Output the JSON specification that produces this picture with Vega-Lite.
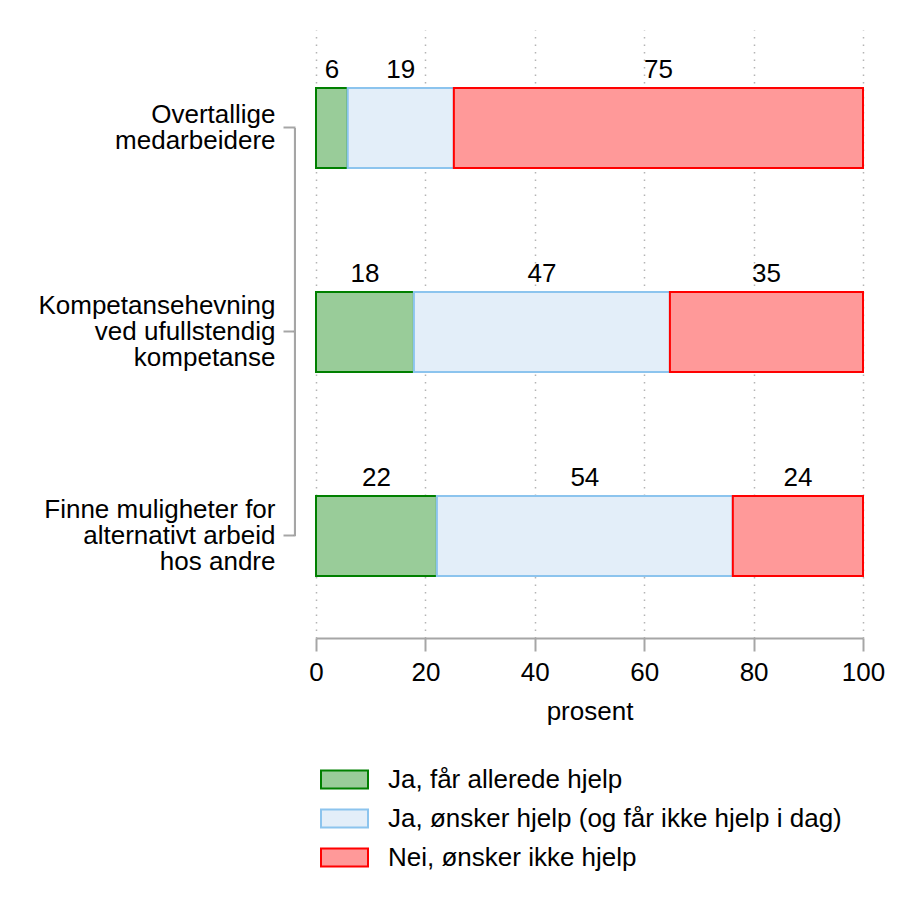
{
  "$schema": "https://vega.github.io/schema/vega-lite/v6.json",
  "autosize": {"type": "none"},
  "padding": {"left": 316, "top": 30, "right": 43, "bottom": 280},
  "width": 547,
  "height": 608,
  "config": {
    "font": "Liberation Sans",
    "view": {"stroke": null},
    "text": {"font": "Liberation Sans"}
  },
  "data": {
    "values": [
      {"cat": "Overtallige medarbeidere", "resp": "Ja, får allerede hjelp", "ord": 1, "value": 5.8},
      {"cat": "Overtallige medarbeidere", "resp": "Ja, ønsker hjelp (og får ikke hjelp i dag)", "ord": 2, "value": 19.4},
      {"cat": "Overtallige medarbeidere", "resp": "Nei, ønsker ikke hjelp", "ord": 3, "value": 74.8},
      {"cat": "Kompetansehevning ved ufullstendig kompetanse", "resp": "Ja, får allerede hjelp", "ord": 1, "value": 17.9},
      {"cat": "Kompetansehevning ved ufullstendig kompetanse", "resp": "Ja, ønsker hjelp (og får ikke hjelp i dag)", "ord": 2, "value": 46.8},
      {"cat": "Kompetansehevning ved ufullstendig kompetanse", "resp": "Nei, ønsker ikke hjelp", "ord": 3, "value": 35.3},
      {"cat": "Finne muligheter for alternativt arbeid hos andre", "resp": "Ja, får allerede hjelp", "ord": 1, "value": 22.1},
      {"cat": "Finne muligheter for alternativt arbeid hos andre", "resp": "Ja, ønsker hjelp (og får ikke hjelp i dag)", "ord": 2, "value": 54.1},
      {"cat": "Finne muligheter for alternativt arbeid hos andre", "resp": "Nei, ønsker ikke hjelp", "ord": 3, "value": 23.8}
    ]
  },
  "transform": [
    {"stack": "value", "groupby": ["cat"], "sort": [{"field": "ord", "order": "ascending"}], "as": ["x0", "x1"]},
    {"calculate": "(datum.x0 + datum.x1) / 2", "as": "mid"}
  ],
  "layer": [
    {
      "mark": {"type": "bar", "strokeWidth": 2},
      "encoding": {
        "y": {
          "field": "cat", "type": "nominal", "sort": null,
          "scale": {"paddingInner": 0.608, "paddingOuter": 0.294, "align": 0.483},
          "axis": {
            "title": null, "offset": 21, "domain": false, "grid": false,
            "tickSize": 12, "tickWidth": 2, "tickColor": "#a6a6a6",
            "labelPadding": 8, "labelFontSize": 26, "labelLineHeight": 26, "labelColor": "#000000", "labelLimit": 0,
            "labelOffset": {"condition": {"test": "datum.value == 'Overtallige medarbeidere'", "value": -13}, "value": -26},
            "labelExpr": "datum.value == 'Overtallige medarbeidere' ? ['Overtallige', 'medarbeidere'] : datum.value == 'Kompetansehevning ved ufullstendig kompetanse' ? ['Kompetansehevning', 'ved ufullstendig', 'kompetanse'] : ['Finne muligheter for', 'alternativt arbeid', 'hos andre']"
          }
        },
        "x": {
          "field": "x0", "type": "quantitative",
          "scale": {"domain": [0, 100], "nice": false},
          "axis": {
            "title": "prosent", "values": [0, 20, 40, 60, 80, 100], "labelFlush": false,
            "grid": true, "gridDash": [1.5, 6], "gridColor": "#b4b4b4", "gridWidth": 1.5,
            "domainColor": "#a6a6a6", "domainWidth": 2,
            "tickSize": 13, "tickWidth": 2, "tickColor": "#a6a6a6",
            "labelPadding": 8, "labelFontSize": 26, "labelColor": "#000000",
            "titleFontSize": 26, "titleFontWeight": "normal", "titleColor": "#000000", "titlePadding": 13
          }
        },
        "x2": {"field": "x1"},
        "color": {
          "field": "resp", "type": "nominal",
          "scale": {
            "domain": ["Ja, får allerede hjelp", "Ja, ønsker hjelp (og får ikke hjelp i dag)", "Nei, ønsker ikke hjelp"],
            "range": ["#99cc99", "#e3eef9", "#ff9999"]
          },
          "legend": {
            "title": null, "orient": "none", "legendX": 4, "legendY": 730,
            "symbolType": "M-1,-0.383H1V0.383H-1Z", "symbolSize": 2209, "symbolStrokeWidth": 2,
            "symbolOpacity": 1, "clipHeight": 39, "rowPadding": 0,
            "labelFontSize": 26, "labelColor": "#000000", "labelLimit": 0, "labelOffset": 19
          }
        },
        "stroke": {
          "field": "resp", "type": "nominal",
          "scale": {
            "domain": ["Ja, får allerede hjelp", "Ja, ønsker hjelp (og får ikke hjelp i dag)", "Nei, ønsker ikke hjelp"],
            "range": ["#008000", "#8cc4ee", "#ff0000"]
          },
          "legend": {
            "title": null, "orient": "none", "legendX": 4, "legendY": 730,
            "symbolType": "M-1,-0.383H1V0.383H-1Z", "symbolSize": 2209, "symbolStrokeWidth": 2,
            "symbolOpacity": 1, "clipHeight": 39, "rowPadding": 0,
            "labelFontSize": 26, "labelColor": "#000000", "labelLimit": 0, "labelOffset": 19
          }
        }
      }
    },
    {
      "mark": {"type": "text", "fontSize": 26, "color": "#000000", "baseline": "middle", "yOffset": -58},
      "encoding": {
        "y": {"field": "cat", "type": "nominal", "sort": null},
        "x": {"field": "mid", "type": "quantitative"},
        "text": {"field": "value", "type": "quantitative", "format": ".0f"}
      }
    },
    {
      "mark": {"type": "rule", "color": "#a6a6a6", "strokeWidth": 2},
      "encoding": {
        "y": {"datum": "Overtallige medarbeidere", "type": "nominal"},
        "y2": {"datum": "Finne muligheter for alternativt arbeid hos andre"},
        "x": {"datum": -3.84}
      }
    }
  ]
}
